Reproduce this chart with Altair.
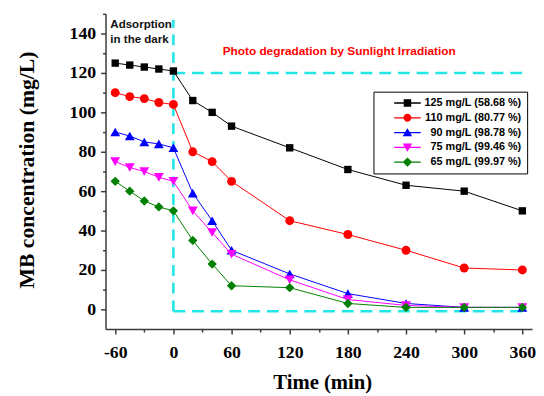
import altair as alt
import pandas as pd

# ---- data ----
time = [-60, -45, -30, -15, 0, 20, 40, 60, 120, 180, 240, 300, 360]
c125 = [125, 124, 123, 122, 121, 106, 100, 93, 82, 71, 63, 60, 50]
c110 = [110, 108, 107, 105, 104, 80, 75, 65, 45, 38, 30, 21, 20]
c90 = [90, 88, 85, 84, 82, 59, 45, 30, 18, 8, 3, 1, 1]
c75 = [75, 72, 70, 67, 65, 50, 39, 28, 15, 5, 2, 1, 1]
c65 = [65, 60, 55, 52, 50, 35, 23, 12, 11, 3, 1, 1, 1]
series_values = [c125, c110, c90, c75, c65]
labels = ["125 mg/L (58.68 %)", "110 mg/L (80.77 %)", "90 mg/L (98.78 %)",
          "75 mg/L (99.46 %)", "65 mg/L (99.97 %)"]

# dashed guide lines (data coordinates)
vline_x = [0]
vline_y = [-1]
vline_y2 = [147]
hline_y = [120, -1]
hline_x = [0, 0]
hline_x2 = [360, 360]

# annotations
ann_text = ["Adsorption", "in the dark"]
ann_x = [-65, -65]
ann_y = [143, 135]
photo_text = ["Photo degradation by Sunlight Irradiation"]
photo_x = [171]
photo_y = [129]

x_ticks = list(range(-60, 361, 30))
y_ticks = list(range(0, 151, 10))

# ---- styles ----
colors = ["#000000", "#ff0000", "#0000ff", "#ff00ff", "#008000"]
shapes = ["square", "circle", "triangle-up", "triangle-down", "diamond"]
sizes = [56, 81, 100, 100, 90]
line_seg = "M-3.375,-0.16H3.375V0.16H-3.375Z "
legend_paths = [
    line_seg + "M-0.95,-0.95H0.95V0.95H-0.95Z",
    line_seg + "M-1,0A1,1 0 1,1 1,0A1,1 0 1,1 -1,0Z",
    line_seg + "M0,-1.1L1.2,0.95H-1.2Z",
    line_seg + "M0,1.1L-1.2,-0.95H1.2Z",
    line_seg + "M0,-1.2L1.2,0L0,1.2L-1.2,0Z",
]

rows = []
for lab, vals in zip(labels, series_values):
    for t, v in zip(time, vals):
        rows.append({"t": t, "c": v, "series": lab})
df = pd.DataFrame(rows)

x_scale = alt.Scale(domain=[-70, 370], nice=False, zero=False)
y_scale = alt.Scale(domain=[-10, 150], nice=False, zero=False)

axis_color = "#3a3a3a"
x_axis = alt.Axis(
    values=x_ticks,
    labelExpr="datum.value % 60 == 0 ? '' + datum.value : ''",
    tickSize={"condition": {"test": "datum.value % 60 != 0", "value": 3}, "value": 5},
    title="Time (min)", titleX=220, titleY=54, titleBaseline="middle", titleFontSize=21,
    labelPadding=10, labelOverlap=False, labelFlush=False, grid=False,
)
y_axis = alt.Axis(
    values=y_ticks,
    labelExpr="datum.value % 20 == 0 ? '' + datum.value : ''",
    tickSize={"condition": {"test": "datum.value % 20 != 0", "value": 3}, "value": 5},
    title="MB concentration (mg/L)", titleAngle=270, titleX=-73, titleY=158,
    titleBaseline="alphabetic", titleAlign="center", titleFontSize=22,
    labelPadding=5, labelOverlap=False, labelFlush=False, grid=False,
)

X = alt.X("t:Q", scale=x_scale, axis=x_axis)
Y = alt.Y("c:Q", scale=y_scale, axis=y_axis)

layers = []

# dashed cyan guide lines
dash_color = "#22e6e6"
vdf = pd.DataFrame({"x": vline_x, "y": vline_y, "y2": vline_y2})
hdf = pd.DataFrame({"y": hline_y, "x": hline_x, "x2": hline_x2})
layers.append(
    alt.Chart(vdf).mark_rule(color=dash_color, strokeWidth=2.6, strokeDash=[11, 7]).encode(
        x=alt.X("x:Q", scale=x_scale, axis=x_axis),
        y=alt.Y("y:Q", scale=y_scale, axis=y_axis),
        y2="y2:Q",
    )
)
layers.append(
    alt.Chart(hdf).mark_rule(color=dash_color, strokeWidth=2.6, strokeDash=[12, 7]).encode(
        x=alt.X("x:Q", scale=x_scale, axis=x_axis),
        x2="x2:Q",
        y=alt.Y("y:Q", scale=y_scale, axis=y_axis),
    )
)

for lab, col, shp, sz in zip(labels, colors, shapes, sizes):
    base = alt.Chart(df).transform_filter(alt.datum.series == lab)
    layers.append(base.mark_line(color=col, strokeWidth=1).encode(x=X, y=Y))
    layers.append(
        base.mark_point(color=col, shape=shp, size=sz, filled=True, opacity=1, strokeWidth=0).encode(x=X, y=Y)
    )

# legend-only layer (no data rows drawn)
leg = alt.Legend(
    title=None, orient="none", legendX=272, legendY=79,
    strokeColor="#000000", fillColor="#ffffff", padding=6,
    symbolSize=64, symbolStrokeWidth=0, symbolOffset=23,
    labelAlign="right", labelOffset=110,
    labelFont="Liberation Sans", labelFontWeight="bold", labelFontSize=11,
    labelColor="#000000", rowPadding=3, labelLimit=300,
)
layers.append(
    alt.Chart(df).transform_filter("datum.c > 1000").mark_point(filled=True, opacity=1).encode(
        x=X, y=Y,
        color=alt.Color("series:N", scale=alt.Scale(domain=labels, range=colors), legend=leg),
        shape=alt.Shape("series:N", scale=alt.Scale(domain=labels, range=legend_paths), legend=leg),
    )
)

# annotations
adf = pd.DataFrame({"x": ann_x, "y": ann_y, "text": ann_text})
layers.append(
    alt.Chart(adf).mark_text(align="left", baseline="alphabetic", font="Liberation Sans",
                             fontWeight="bold", fontSize=11.7, color="#111111").encode(
        x=alt.X("x:Q", scale=x_scale, axis=x_axis),
        y=alt.Y("y:Q", scale=y_scale, axis=y_axis),
        text="text:N",
    )
)
pdf = pd.DataFrame({"x": photo_x, "y": photo_y, "text": photo_text})
layers.append(
    alt.Chart(pdf).mark_text(align="center", baseline="alphabetic", font="Liberation Sans",
                             fontWeight="bold", fontSize=12, color="#ff0000").encode(
        x=alt.X("x:Q", scale=x_scale, axis=x_axis),
        y=alt.Y("y:Q", scale=y_scale, axis=y_axis),
        text="text:N",
    )
)

chart = alt.layer(*layers).properties(
    width=433, height=320,
    autosize=alt.AutoSizeParams(type="none"),
    padding={"left": 99, "top": 3, "right": 4, "bottom": 65},
).configure_view(stroke=None).configure_axis(
    labelFont="Liberation Serif", labelFontWeight="bold", labelFontSize=18, labelColor="#000000",
    titleFont="Liberation Serif", titleFontWeight="bold", titleColor="#000000",
    domainColor=axis_color, domainWidth=1.5, tickColor=axis_color, tickWidth=1.5,
)

chart.save("out.html", embed_options={"renderer": "svg", "actions": False})
